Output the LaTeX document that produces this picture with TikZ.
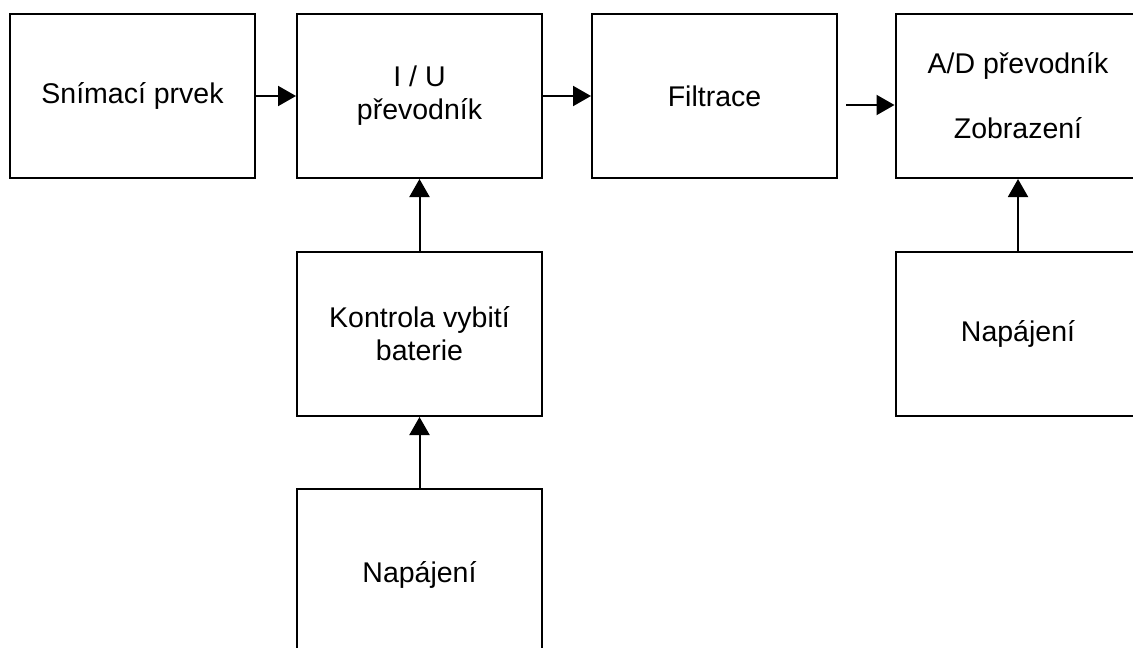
\documentclass[tikz,border=0pt]{standalone}
\usepackage{fontspec}
\setmainfont{Liberation Sans}
\usetikzlibrary{arrows.meta}
\usetikzlibrary{positioning}

\begin{document}
\begin{tikzpicture}[x=1pt,y=-1pt]
  \tikzset{block/.style = {shape=rectangle,draw,line width=2pt,minimum width=245pt,minimum height=164pt,inner sep=2pt,align=center,font=\fontsize{28.5}{33}\selectfont}}
  \tikzset{%
  tipA/.tip={Triangle[length=18pt,width=20pt]},
}
  \tikzset{edge/.style = {-tipA,line width=2pt}}

  \clip (0,0) rectangle (1133,648);

	\node[block] (SP) at (132.5,96) {Snímací prvek};
	\node[block] (IU) at (419.5,96) {I / U\\převodník};
	\node[block] (FI) at (714.5,96) {Filtrace};
	\node[block] (AD) at (1018,96) {A/D převodník\\[32pt]Zobrazení};

	\node[block] (KB) at (419.5,334) {Kontrola vybití\\baterie};
	\node[block,minimum height=172pt] (NL) at (419.5,575) {Napájení};
	\node[block] (NR) at (1018,334) {Napájení};

	\coordinate (FA) at (846,105);

    \foreach \from/\to in {SP/IU, IU/FI, KB/IU, NL/KB, NR/AD}
    \path[edge](\from) edge (\to);

    \draw[edge] (FA) -- (FA -| AD.west);

\end{tikzpicture}
\end{document}
